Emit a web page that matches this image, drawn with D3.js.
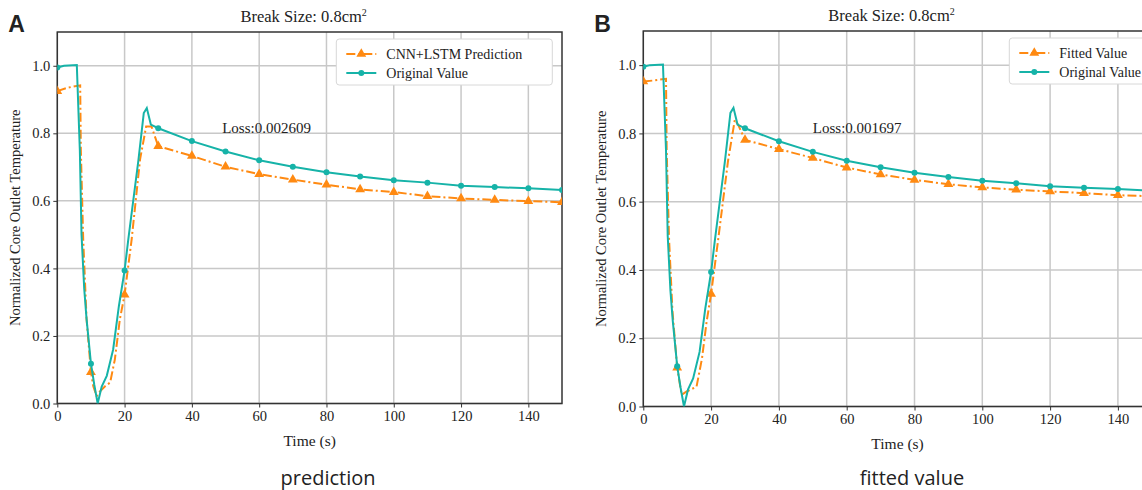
<!DOCTYPE html>
<meta charset="utf-8">
<script src="https://d3js.org/d3.v7.min.js"></script>
<style>
  body { margin: 0; background: #fff; }
  text { font-family: "Liberation Serif", "Times New Roman", serif; fill: #222; }
</style>
<div id="chart"></div>
<script>
  // values, time in seconds
  var origT = [0, 2, 5.8, 6.7, 7.2, 8.0, 8.7, 10, 11, 12, 13.2, 14.7, 16.6, 18.3, 20, 21.1, 24.1, 25.7, 26.6, 27.8, 30, 40, 50, 60, 70, 80, 90, 100, 110, 120, 130, 140, 150];
  var origV = [0.995, 1.0, 1.002, 0.75, 0.5, 0.34, 0.25, 0.118, 0.055, 0.0, 0.05, 0.082, 0.16, 0.288, 0.394, 0.486, 0.72, 0.86, 0.875, 0.826, 0.815, 0.777, 0.746, 0.72, 0.701, 0.685, 0.672, 0.661, 0.654, 0.645, 0.641, 0.637, 0.632];

  var predT = [0, 3, 6.8, 7.0, 7.7, 8.7, 10, 10.7, 11.7, 12.7, 14.2, 15.7, 17.1, 18.6, 20, 22.1, 24.6, 26.4, 28, 30, 40, 50, 60, 70, 80, 90, 100, 110, 120, 130, 140, 150];
  var predV = [0.925, 0.935, 0.942, 0.75, 0.486, 0.25, 0.093, 0.051, 0.022, 0.036, 0.051, 0.062, 0.13, 0.25, 0.322, 0.486, 0.723, 0.82, 0.82, 0.762, 0.733, 0.701, 0.679, 0.663, 0.648, 0.634, 0.626, 0.614, 0.607, 0.603, 0.599, 0.596];

  var fitT = [0, 3, 6.7, 6.9, 7.6, 8.6, 10, 11.3, 12.8, 15.7, 17.3, 18.7, 20, 22.1, 25, 27, 28, 30, 40, 50, 60, 70, 80, 90, 100, 110, 120, 130, 140, 150];
  var fitV = [0.952, 0.955, 0.96, 0.75, 0.49, 0.28, 0.114, 0.034, 0.044, 0.058, 0.14, 0.25, 0.33, 0.49, 0.72, 0.84, 0.825, 0.781, 0.754, 0.728, 0.70, 0.68, 0.664, 0.651, 0.642, 0.635, 0.63, 0.625, 0.619, 0.616];

  var xTicks = [0, 20, 40, 60, 80, 100, 120, 140];
  var yTicks = [0, 0.2, 0.4, 0.6, 0.8, 1.0];

  var teal = "#16b3a8", orange = "#ff8a12";

  var svg = d3.select("#chart")
      .append("svg")
      .attr("width", 1142)
      .attr("height", 490);

  function zip(t, v) {
    return t.map(function (d, i) { return { t: d, v: v[i] }; });
  }

  function drawPanel(p) {
    var width = p.right - p.left, height = p.bottom - p.top;
    var g = svg.append("g").attr("transform", "translate(" + p.left + "," + p.top + ")");

    var x = d3.scaleLinear().domain([0, 150]).range([0, width]);
    var y = d3.scaleLinear().domain([0, 1.1]).range([height, 0]);

    g.append("clipPath").attr("id", p.id + "clip")
      .append("rect").attr("width", width).attr("height", height);

    // grid
    g.append("g").selectAll("line").data(xTicks).enter().append("line")
      .attr("x1", function (d) { return x(d); }).attr("x2", function (d) { return x(d); })
      .attr("y1", 0).attr("y2", height)
      .attr("stroke", "#c8c8c8").attr("stroke-width", 1.5);
    g.append("g").selectAll("line").data(yTicks).enter().append("line")
      .attr("y1", function (d) { return y(d); }).attr("y2", function (d) { return y(d); })
      .attr("x1", 0).attr("x2", width)
      .attr("stroke", "#c8c8c8").attr("stroke-width", 1.5);

    // axes
    var xa = g.append("g")
      .attr("transform", "translate(0," + height + ")")
      .call(d3.axisBottom(x).tickValues(xTicks).tickSize(4).tickPadding(3).tickFormat(d3.format("d")));
    var ya = g.append("g")
      .call(d3.axisLeft(y).tickValues(yTicks).tickSize(4).tickPadding(3).tickFormat(d3.format(".1f")));
    [xa, ya].forEach(function (a) {
      a.attr("font-family", "Liberation Serif, serif").attr("font-size", 14.5);
      a.select(".domain").remove();
      a.selectAll("line").attr("stroke", "#333");
      a.selectAll("text").attr("fill", "#222");
    });

    // frame
    g.append("rect").attr("width", width).attr("height", height)
      .attr("fill", "none").attr("stroke", "#333").attr("stroke-width", 1.5);

    var line = d3.line()
      .x(function (d) { return x(d.t); })
      .y(function (d) { return y(d.v); });

    var plot = g.append("g").attr("clip-path", "url(#" + p.id + "clip)");
    var fit = zip(p.fitT, p.fitV), orig = zip(origT, origV);

    plot.append("path").datum(fit)
      .attr("d", line).attr("fill", "none")
      .attr("stroke", orange).attr("stroke-width", 2)
      .attr("stroke-dasharray", "9,3,2,3");
    plot.selectAll(".tri").data(fit.filter(function (d) { return d.t % 10 === 0; }))
      .enter().append("path")
      .attr("d", d3.symbol().type(d3.symbolTriangle).size(42))
      .attr("transform", function (d) { return "translate(" + x(d.t) + "," + y(d.v) + ")"; })
      .attr("fill", orange);

    plot.append("path").datum(orig)
      .attr("d", line).attr("fill", "none")
      .attr("stroke", teal).attr("stroke-width", 2);
    plot.selectAll(".dot").data(orig.filter(function (d) { return d.t % 10 === 0; }))
      .enter().append("circle")
      .attr("cx", function (d) { return x(d.t); })
      .attr("cy", function (d) { return y(d.v); })
      .attr("r", 3).attr("fill", teal);

    // title
    var title = g.append("text")
      .attr("x", width / 2 - 6).attr("y", -10)
      .attr("text-anchor", "middle")
      .style("font-size", "16.5px")
      .text("Break Size: 0.8cm");
    title.append("tspan").attr("dy", -6).style("font-size", "10px").text("2");

    g.append("text")
      .attr("x", x(p.lossAt[0])).attr("y", y(p.lossAt[1]))
      .style("font-size", "15px")
      .text(p.loss);

    g.append("text")
      .attr("x", width / 2).attr("y", height + 42)
      .attr("text-anchor", "middle")
      .style("font-size", "15.5px")
      .text("Time (s)");

    g.append("text")
      .attr("transform", "rotate(-90)")
      .attr("x", -height / 2).attr("y", -37)
      .attr("text-anchor", "middle")
      .style("font-size", "14.5px")
      .text("Normalized Core Outlet Temperature");

    // legend
    var lg = g.append("g").attr("transform", "translate(" + p.legend[0] + "," + p.legend[1] + ")");
    lg.append("rect").attr("width", p.legend[2]).attr("height", 46)
      .attr("rx", 3).attr("fill", "#fff").attr("stroke", "#d8d8d8").attr("stroke-width", 1);
    lg.append("line").attr("x1", 10).attr("x2", 40).attr("y1", 15).attr("y2", 15)
      .attr("stroke", orange).attr("stroke-width", 2).attr("stroke-dasharray", "9,3,2,3");
    lg.append("path").attr("d", d3.symbol().type(d3.symbolTriangle).size(42))
      .attr("transform", "translate(25,15)").attr("fill", orange);
    lg.append("line").attr("x1", 10).attr("x2", 40).attr("y1", 34).attr("y2", 34)
      .attr("stroke", teal).attr("stroke-width", 2);
    lg.append("circle").attr("cx", 25).attr("cy", 34).attr("r", 3).attr("fill", teal);
    lg.append("text").attr("x", 50).attr("y", 20).style("font-size", "14px").text(p.label);
    lg.append("text").attr("x", 50).attr("y", 39).style("font-size", "14px").text("Original Value");

    // panel letter and caption
    svg.append("text")
      .attr("x", p.left - 49).attr("y", 32)
      .style("font-family", "Liberation Sans, Arial, sans-serif")
      .style("font-weight", "bold").style("font-size", "23px").attr("fill", "#000")
      .text(p.letter);
    svg.append("text")
      .attr("x", p.captionX).attr("y", 485)
      .attr("text-anchor", "middle")
      .style("font-family", "Open Sans, sans-serif")
      .style("font-size", "20px").attr("fill", "#000")
      .text(p.caption);
  }

  drawPanel({
    id: "a", left: 57.3, right: 562, top: 32, bottom: 403.5,
    fitT: predT, fitV: predV, label: "CNN+LSTM Prediction",
    loss: "Loss:0.002609", lossAt: [49, 0.8],
    legend: [279, 7, 216], letter: "A", caption: "prediction", captionX: 328
  });

  drawPanel({
    id: "b", left: 643.3, right: 1151.8, top: 31, bottom: 406.5,
    fitT: fitT, fitV: fitV, label: "Fitted Value",
    loss: "Loss:0.001697", lossAt: [50, 0.8],
    legend: [366, 7, 160], letter: "B", caption: "fitted value", captionX: 912
  });
</script>
